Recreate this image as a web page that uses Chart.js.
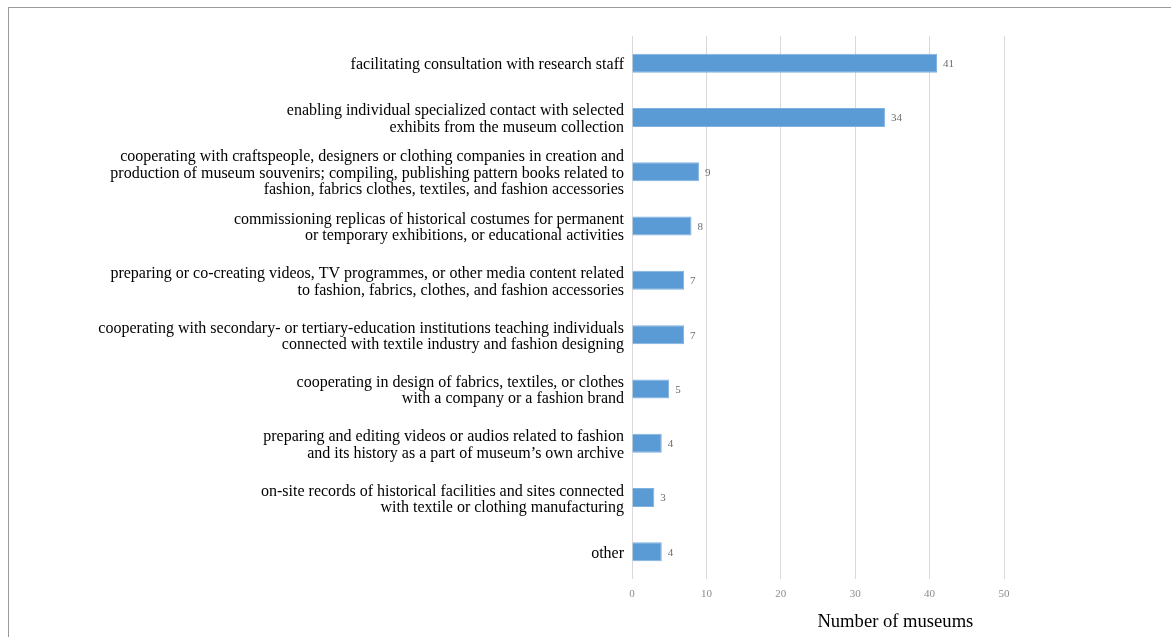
<!DOCTYPE html>
<html>
<head>
<meta charset="utf-8">
<script src="https://cdn.jsdelivr.net/npm/chart.js@4"></script>
<style>
  html, body { margin: 0; padding: 0; background: #fff; }
  .wrap { position: relative; width: 1171px; height: 637px; overflow: hidden; }
  .frame { position: absolute; left: 8px; top: 7px; right: -2px; bottom: -2px; border-top: 1px solid #9a9a9a; border-left: 1px solid #9a9a9a; }
  canvas { position: absolute; left: 0; top: 0; }
</style>
</head>
<body>
<div class="wrap">
  <div class="frame"></div>
  <canvas id="chart" width="1171" height="637"></canvas>
</div>
<script>
const activities = [
    "facilitating consultation with research staff",
    ["enabling individual specialized contact with selected", "exhibits from the museum collection"],
    ["cooperating with craftspeople, designers or clothing companies in creation and",
     "production of museum souvenirs; compiling, publishing pattern books related to",
     "fashion, fabrics clothes, textiles, and fashion accessories"],
    ["commissioning replicas of historical costumes for permanent", "or temporary exhibitions, or educational activities"],
    ["preparing or co-creating videos, TV programmes, or other media content related", "to fashion, fabrics, clothes, and fashion accessories"],
    ["cooperating with secondary- or tertiary-education institutions teaching individuals", "connected with textile industry and fashion designing"],
    ["cooperating in design of fabrics, textiles, or clothes", "with a company or a fashion brand"],
    ["preparing and editing videos or audios related to fashion", "and its history as a part of museum\u2019s own archive"],
    ["on-site records of historical facilities and sites connected", "with textile or clothing manufacturing"],
    "other"
];
const museumCounts = [41, 34, 9, 8, 7, 7, 5, 4, 3, 4];
const axisTitle = "Number of museums";

const serif = "'Liberation Serif', 'Times New Roman', serif";

// value next to the end of each bar
const barValues = {
    id: "barValues",
    afterDatasetsDraw(chart) {
        const ctx = chart.ctx;
        const meta = chart.getDatasetMeta(0);
        ctx.save();
        ctx.font = "11px " + serif;
        ctx.fillStyle = "#6b6b6b";
        ctx.textAlign = "left";
        ctx.textBaseline = "middle";
        meta.data.forEach((bar, i) => {
            ctx.fillText(String(museumCounts[i]), bar.x + 6, bar.y + 1);
        });
        ctx.restore();
    }
};

// axis title sits off-centre, under the right half of the axis
const xTitle = {
    id: "xTitle",
    afterDraw(chart) {
        const ctx = chart.ctx;
        const x = chart.scales.x;
        ctx.save();
        ctx.font = "18.6px " + serif;
        ctx.fillStyle = "#000";
        ctx.textAlign = "center";
        ctx.textBaseline = "middle";
        ctx.fillText(axisTitle, x.getPixelForValue(35.4), chart.chartArea.bottom + 43);
        ctx.restore();
    }
};

const ctx = document.getElementById("chart").getContext("2d");
new Chart(ctx, {
    type: "bar",
    data: {
        labels: activities,
        datasets: [{
            data: museumCounts,
            backgroundColor: "#5b9bd5",
            borderColor: "#7fb1df",
            borderWidth: 1,
            barPercentage: 0.7,
            categoryPercentage: 0.5,
        }],
    },
    options: {
        indexAxis: "y",
        responsive: false,
        animation: false,
        layout: { padding: { top: 36, right: 167, bottom: 0, left: 0 } },
        plugins: {
            legend: { display: false },
            tooltip: { enabled: false },
        },
        scales: {
            x: {
                min: 0,
                max: 50,
                ticks: {
                    stepSize: 10,
                    color: "#8c8c8c",
                    font: { family: serif, size: 11 },
                    padding: 9,
                },
                afterFit(scale) { scale.height = 58; },
                grid: { color: "#d9d9d9", drawTicks: false },
                border: { display: false },
            },
            y: {
                afterFit(scale) { scale.width = 632; },
                grid: { display: false, drawTicks: false },
                border: { display: false },
                ticks: {
                    color: "#000",
                    font: { family: serif, size: 16, lineHeight: 1.03 },
                    padding: 8,
                    labelOffset: 2,
                },
            },
        },
    },
    plugins: [barValues, xTitle],
});
</script>
</body>
</html>
